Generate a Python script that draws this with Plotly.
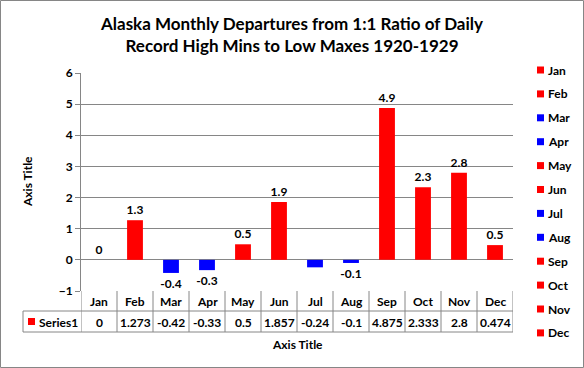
import plotly.graph_objects as go

months = ["Jan", "Feb", "Mar", "Apr", "May", "Jun", "Jul", "Aug", "Sep", "Oct", "Nov", "Dec"]
values = [0, 1.273, -0.42, -0.33, 0.5, 1.857, -0.24, -0.1, 4.875, 2.333, 2.8, 0.474]
labels = ["0", "1.3", "-0.4", "-0.3", "0.5", "1.9", "", "-0.1", "4.9", "2.3", "2.8", "0.5"]
colors = ["#FF0000", "#FF0000", "#0000FF", "#0000FF", "#FF0000", "#FF0000",
          "#0000FF", "#0000FF", "#FF0000", "#FF0000", "#FF0000", "#FF0000"]
series_name = "Series1"
title_text = "Alaska Monthly Departures from 1:1 Ratio of Daily<br>Record High Mins to Low Maxes 1920-1929"

W, H = 584, 368
L, R, T, B = 81, 513, 73, 291
FONT = "Lato"
GRID = "#868686"


def xp(px):
    return (px - L) / (R - L)


def yp(py):
    return (B - py) / (B - T)


fig = go.Figure()
fig.add_trace(go.Bar(
    x=months, y=values, name=series_name,
    marker=dict(color=colors, line=dict(width=0)),
    width=0.44, text=[f"<b>{t}</b>" for t in labels], textposition="outside",
    cliponaxis=False, constraintext="none",
    textfont=dict(family=FONT, size=12, color="#000000"),
    showlegend=False,
))

shapes = []
# outer frame
shapes.append(dict(type="rect", xref="paper", yref="paper",
                   x0=xp(0.5), x1=xp(W - 0.5), y0=yp(0.5), y1=yp(H - 0.5),
                   line=dict(color="#868686", width=1)))
# data table lines
line = dict(color=GRID, width=1)
for i in range(len(months) + 1):
    shapes.append(dict(type="line", xref="x", yref="paper",
                       x0=i - 0.5, x1=i - 0.5, y0=yp(B), y1=yp(332), line=line))
shapes.append(dict(type="line", xref="paper", yref="paper",
                   x0=xp(23), x1=1, y0=yp(311), y1=yp(311), line=line))
shapes.append(dict(type="line", xref="paper", yref="paper",
                   x0=xp(23), x1=1, y0=yp(332), y1=yp(332), line=line))
shapes.append(dict(type="line", xref="paper", yref="paper",
                   x0=xp(23), x1=xp(23), y0=yp(311), y1=yp(332), line=line))
# series key in table
shapes.append(dict(type="rect", xref="paper", yref="paper",
                   x0=xp(28), x1=xp(35), y0=yp(318), y1=yp(325),
                   fillcolor="#FF0000", line=dict(width=0)))

annotations = []
tfont = dict(family=FONT, size=12, color="#000000")
for m, v in zip(months, values):
    annotations.append(dict(x=m, xref="x", y=yp(301), yref="paper", text=f"<b>{m}</b>",
                            showarrow=False, font=tfont, xanchor="center", yanchor="middle"))
    annotations.append(dict(x=m, xref="x", y=yp(322), yref="paper", text=f"<b>{v:g}</b>",
                            showarrow=False, font=tfont, xanchor="center", yanchor="middle"))
annotations.append(dict(x=xp(37), xref="paper", y=yp(322), yref="paper", text=f"<b>{series_name}</b>",
                        showarrow=False, font=tfont, xanchor="left", yanchor="middle"))
annotations.append(dict(x=0.5, xref="paper", y=yp(344), yref="paper", text="<b>Axis Title</b>",
                        showarrow=False, font=tfont, xanchor="center", yanchor="middle"))
annotations.append(dict(x=xp(27), xref="paper", y=yp(182), yref="paper", text="<b>Axis Title</b>",
                        showarrow=False, font=tfont, textangle=-90, xanchor="center", yanchor="middle"))

# legend (one key per month, colour matching its bar)
for i, (m, c) in enumerate(zip(months, colors)):
    cy = 70 + i * 23.9
    shapes.append(dict(type="rect", xref="paper", yref="paper",
                       x0=xp(537), x1=xp(544), y0=yp(cy - 3.5), y1=yp(cy + 3.5),
                       fillcolor=c, line=dict(width=0)))
    annotations.append(dict(x=xp(546), xref="paper", y=yp(cy), yref="paper", text=f"<b>{m}</b>",
                            showarrow=False, font=tfont, xanchor="left", yanchor="middle"))

fig.update_layout(
    width=W, height=H,
    margin=dict(l=L, r=W - R, t=T, b=H - B, autoexpand=False),
    paper_bgcolor="white", plot_bgcolor="white",
    title=dict(text=f"<b>{title_text}</b>", x=0.5, xref="container", xanchor="center",
               y=1 - 30 / H, yanchor="middle",
               font=dict(family=FONT, size=17, color="#000000")),
    font=dict(family=FONT, size=12, color="#000000"),
    showlegend=False,
    shapes=shapes, annotations=annotations,
    xaxis=dict(showticklabels=False, showgrid=False, showline=False, ticks="",
               range=[-0.5, 11.5], zeroline=False),
    yaxis=dict(range=[-1, 6], dtick=1, tick0=0, showgrid=True, gridcolor=GRID, gridwidth=1,
               zeroline=True, zerolinecolor=GRID, zerolinewidth=1,
               showline=True, linecolor=GRID, linewidth=1, ticks="outside", ticklen=5,
               tickcolor=GRID, tickfont=dict(family=FONT, size=12, color="#000000"),
               tickprefix="<b>", ticksuffix="</b>"),
)

fig.write_html("out.html", config={"displayModeBar": False},
               post_script="document.body.style.margin='0';")
